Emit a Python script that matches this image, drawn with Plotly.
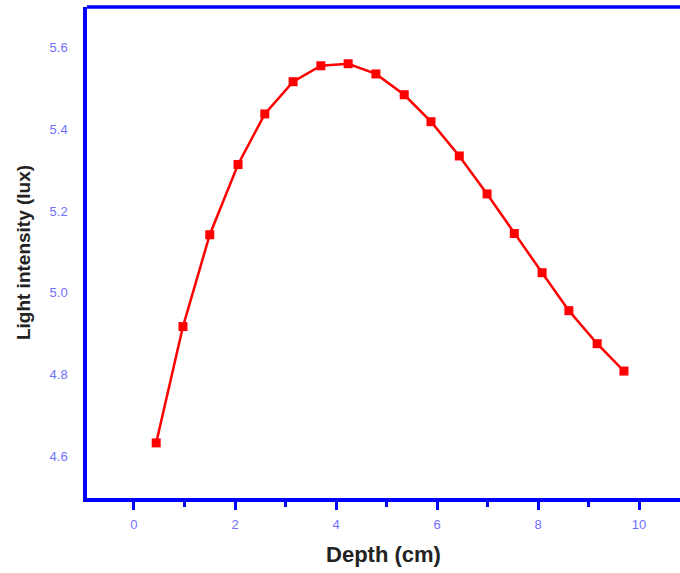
import plotly.graph_objects as go

depth = [0.44, 0.97, 1.50, 2.06, 2.59, 3.15, 3.70, 4.24, 4.79, 5.35, 5.88, 6.44, 6.99, 7.53, 8.08, 8.61, 9.17, 9.70]
intensity = [4.632, 4.917, 5.142, 5.314, 5.438, 5.517, 5.556, 5.561, 5.536, 5.485, 5.419, 5.335, 5.242, 5.145, 5.049, 4.956, 4.875, 4.808]
x_ticks = [0, 2, 4, 6, 8, 10]
y_ticks = [4.6, 4.8, 5.0, 5.2, 5.4, 5.6]

fig = go.Figure()
fig.add_trace(go.Scatter(
    x=depth, y=intensity, mode="lines+markers",
    line=dict(color="#ff0000", width=2.5),
    marker=dict(symbol="square", size=9, color="#ff0000"),
    showlegend=False,
))

tick_font = dict(family="Liberation Sans, Arial, sans-serif", size=13, color="#7070ff")
xtitle_font = dict(family="Liberation Sans, Arial, sans-serif", size=22, color="#222222")
ytitle_font = dict(family="Liberation Sans, Arial, sans-serif", size=19, color="#222222")

fig.update_layout(
    width=680, height=573,
    margin=dict(l=87, r=0, t=7, b=75),
    paper_bgcolor="white", plot_bgcolor="white",
    xaxis=dict(
        range=[-0.93, 10.81], tickvals=x_ticks, ticktext=[str(v) for v in x_ticks],
        showgrid=False, zeroline=False, showline=True, linecolor="#0000ff", linewidth=3.5,
        ticks="outside", ticklen=8, tickwidth=2.5, tickcolor="#0000ff",
        minor=dict(dtick=1, tick0=1, ticks="outside", ticklen=5, tickwidth=2.5, tickcolor="#0000ff", showgrid=False),
        tickfont=tick_font, ticklabelstandoff=4,
        title=dict(text="<b>Depth (cm)</b>", font=xtitle_font, standoff=16),
    ),
    yaxis=dict(
        range=[4.497, 5.700], tickvals=y_ticks, ticktext=["%.1f" % v for v in y_ticks],
        showgrid=False, zeroline=False, showline=True, linecolor="#0000ff", linewidth=3.5,
        ticks="", tickfont=tick_font, ticklabelstandoff=13,
        title=dict(text="<b>Light intensity (lux)</b>", font=ytitle_font, standoff=15),
    ),
    shapes=[dict(type="line", xref="paper", yref="paper", x0=0, x1=1, y0=1, y1=1,
                 line=dict(color="#0000ff", width=3.5))],
)

fig.write_html("out.html")
